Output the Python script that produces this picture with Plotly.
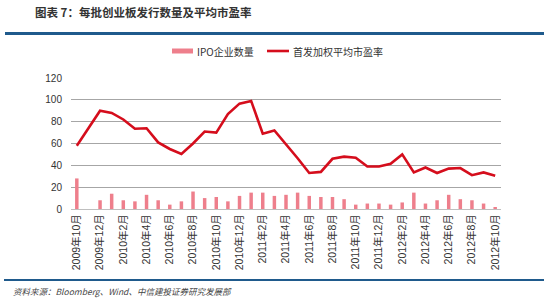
import plotly.graph_objects as go

# ---- data ----
months = [
    "2009年10月", "2009年11月", "2009年12月",
    "2010年1月", "2010年2月", "2010年3月", "2010年4月", "2010年5月", "2010年6月",
    "2010年7月", "2010年8月", "2010年9月", "2010年10月", "2010年11月", "2010年12月",
    "2011年1月", "2011年2月", "2011年3月", "2011年4月", "2011年5月", "2011年6月",
    "2011年7月", "2011年8月", "2011年9月", "2011年10月", "2011年11月", "2011年12月",
    "2012年1月", "2012年2月", "2012年3月", "2012年4月", "2012年5月", "2012年6月",
    "2012年7月", "2012年8月", "2012年9月", "2012年10月",
]
ipo_count = [
    28, None, 8,
    14, 8, 7, 13, 8, 4,
    7, 16, 10, 11, 7, 12,
    15, 15, 12, 13, 15, 12,
    11, 11, 9, 4, 5, 5,
    4, 6, 15, 5, 8, 13,
    9, 8, 5, 1,
]
pe_ratio = [
    58, None, 90,
    88, 82, 73.5, 74, 61, 55,
    50.5, 60, 71, 70, 87, 96.5,
    99, 69, 72, 59.5, 46.5, 33,
    34, 46, 48, 47, 39, 39,
    41.5, 50, 33.5, 38, 33, 37,
    37.5, 31, 33.5, 30.5,
]
tick_labels = months[::2]
series_names = ["IPO企业数量", "首发加权平均市盈率"]
title_text = "图表 7：每批创业板发行数量及平均市盈率"
source_text = "资料来源：Bloomberg、Wind、中信建投证券研究发展部"

bar_color = "#ee7f8c"
line_color = "#d50d1c"

# ---- layout geometry (pixels) ----
W, H = 550, 303
L, R, T, B = 71, 49, 78, 94
pw, ph = W - L - R, H - T - B


def px_x(x):
    return (x - L) / pw


def px_y(y):
    return (H - B - y) / ph


fig = go.Figure()
fig.add_trace(go.Bar(
    x=months, y=ipo_count, name=series_names[0],
    marker=dict(color=bar_color, line=dict(width=0)),
    width=0.3, showlegend=False,
))
fig.add_trace(go.Scatter(
    x=months, y=pe_ratio, name=series_names[1], mode="lines",
    line=dict(color=line_color, width=2.6), connectgaps=True, showlegend=False,
))

legend_font = dict(family="Noto Sans CJK SC, serif", size=10, color="#333333")
ly = 51

fig.update_layout(
    width=W, height=H,
    margin=dict(l=L, r=R, t=T, b=B, pad=0),
    paper_bgcolor="white", plot_bgcolor="white",
    font=dict(family="Liberation Sans, Arial, sans-serif", color="#333333", size=10),
    bargap=0.7,
    title=dict(
        text=title_text, x=35 / W, y=1 - 13 / H, xanchor="left", yanchor="middle",
        font=dict(family="Noto Sans CJK SC", size=11.5, color="#333333", weight="bold"),
    ),
    xaxis=dict(
        type="category", categoryorder="array", categoryarray=months,
        tickmode="array", tickvals=tick_labels, ticktext=tick_labels,
        tickangle=-90, showgrid=False, showline=True, linecolor="#bfbfbf",
        linewidth=1, ticks="", tickfont=dict(size=10.5, color="#333333",
                                            family="Liberation Sans, Noto Sans CJK SC"),
        range=[-0.5, len(months) - 0.5],
    ),
    yaxis=dict(
        range=[0, 120], tickvals=[0, 20, 40, 60, 80, 100, 120],
        showgrid=True, gridcolor="#a6a6a6", gridwidth=1, zeroline=False,
        ticks="", tickfont=dict(size=10, color="#333333"), ticklabelstandoff=8,
        showline=False,
    ),
    shapes=[
        dict(type="line", xref="paper", yref="paper",
             x0=px_x(5), x1=px_x(544), y0=px_y(33.5), y1=px_y(33.5),
             line=dict(color="#1f5a8c", width=3)),
        dict(type="line", xref="paper", yref="paper",
             x0=px_x(4), x1=px_x(544), y0=px_y(280), y1=px_y(280),
             line=dict(color="#1f5a8c", width=2)),
        # legend keys
        dict(type="rect", xref="paper", yref="paper",
             x0=px_x(172), x1=px_x(193), y0=px_y(53.5), y1=px_y(48.5),
             fillcolor=bar_color, line=dict(width=0)),
        dict(type="line", xref="paper", yref="paper",
             x0=px_x(267), x1=px_x(289), y0=px_y(ly), y1=px_y(ly),
             line=dict(color=line_color, width=2.6)),
    ],
    annotations=[
        dict(text=series_names[0], xref="paper", yref="paper",
             x=px_x(195), y=px_y(ly), xanchor="left", yanchor="middle",
             showarrow=False, font=legend_font),
        dict(text=series_names[1], xref="paper", yref="paper",
             x=px_x(291), y=px_y(ly), xanchor="left", yanchor="middle",
             showarrow=False, font=legend_font),
        dict(text=source_text, xref="paper", yref="paper",
             x=px_x(11), y=px_y(291), xanchor="left", yanchor="middle",
             showarrow=False,
             font=dict(family="Noto Sans CJK SC, serif", size=8.5, color="#444444",
                       style="italic")),
    ],
)

fig.write_html("out.html")
